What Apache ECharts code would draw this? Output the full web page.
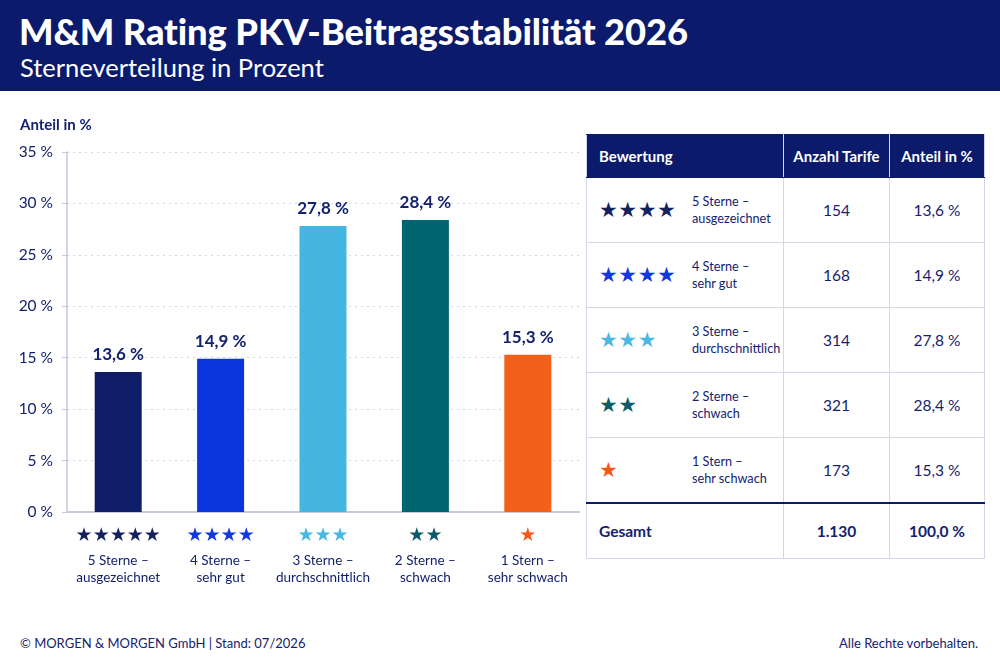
<!DOCTYPE html>
<html lang="de">
<head>
<meta charset="utf-8">
<title>M&amp;M Rating PKV-Beitragsstabilität 2026</title>
<script src="https://cdn.jsdelivr.net/npm/echarts@6/dist/echarts.min.js"></script>
<style>
  html, body { margin: 0; padding: 0; background: #fff; }
  body { width: 1000px; height: 666px; position: relative; overflow: hidden; font-family: Lato, "Noto Sans", sans-serif; color: #14226e; }
  #header { position: absolute; left: 0; top: 0; width: 1000px; height: 91px; background: #0b1a6b; color: #fff; }
  #header h1 { position: absolute; left: 19px; top: 9px; margin: 0; font-size: 36.3px; font-weight: 900; letter-spacing: -0.1px; }
  #header h2 { position: absolute; left: 20px; top: 52px; margin: 0; font-size: 25.5px; font-weight: 400; }
  #chart { position: absolute; left: 0; top: 100px; width: 585px; height: 500px; }
  #tbl { position: absolute; left: 586px; top: 134px; border-collapse: collapse; font-size: 15.5px; color: #14226e; }
  #tbl td, #tbl th { border: 1px solid #d3d6ec; padding: 0; white-space: nowrap; }
  #tbl th { background: #0b1a6b; color: #fff; height: 42px; font-size: 15px; font-weight: 700; border-color: #0b1a6b #d3d6ec; }
  #tbl th.first { text-align: left; padding-left: 12px; }
  #tbl td { height: 64px; text-align: center; }
  #tbl td.rating { text-align: left; }
  .stars { display: inline-block; width: 93px; padding-left: 12px; font-family: "DejaVu Sans"; font-size: 21px; vertical-align: middle; letter-spacing: 0.5px; }
  .rtext { display: inline-block; font-size: 12.7px; line-height: 17px; vertical-align: middle; text-align: left; }
  #tbl tr.total td { height: 54px; font-weight: 700; border-top: 2px solid #0b1a6b; }
  #tbl tr.total td.rating { padding-left: 12px; }
  #footer-l { position: absolute; left: 20px; top: 635px; font-size: 13px; }
  #footer-r { position: absolute; right: 22px; top: 635px; font-size: 13px; }
</style>
</head>
<body>
<div id="header">
  <h1>M&amp;M Rating PKV-Beitragsstabilität 2026</h1>
  <h2>Sterneverteilung in Prozent</h2>
</div>
<div id="chart"></div>
<table id="tbl"></table>
<div id="footer-l">© MORGEN &amp; MORGEN GmbH | Stand: 07/2026</div>
<div id="footer-r">Alle Rechte vorbehalten.</div>
<script>
// Daten
const ratingLine1 = ["5 Sterne –", "4 Sterne –", "3 Sterne –", "2 Sterne –", "1 Stern –"];
const ratingLine2 = ["ausgezeichnet", "sehr gut", "durchschnittlich", "schwach", "sehr schwach"];
const shares = [13.6, 14.9, 27.8, 28.4, 15.3];
const counts = [154, 168, 314, 321, 173];
const chartStars = [5, 4, 3, 2, 1];
const tableStars = [4, 4, 3, 2, 1];
const totalCount = "1.130";
const totalShare = "100,0 %";
const yTicks = [0, 5, 10, 15, 20, 25, 30, 35];

const barColors = ["#0f1d68", "#0a35dc", "#45b6e1", "#00646f", "#f2601a"];
const starColors = ["#14215f", "#1238e0", "#4ab8e3", "#0b5c68", "#f2581c"];
const navy = "#14226e";

const fmt = (v) => v.toFixed(1).replace(".", ",") + " %";
const categories = ratingLine1.map((t, i) => t + "\n" + ratingLine2[i]);

// Tabelle
const tbl = document.getElementById("tbl");
let html = '<tr><th class="first" style="width:184px">Bewertung</th><th style="width:105px">Anzahl Tarife</th><th style="width:94px">Anteil in %</th></tr>';
counts.forEach((c, i) => {
  html += '<tr><td class="rating"><span class="stars" style="color:' + starColors[i] + '">' +
    "★".repeat(tableStars[i]) + '</span><span class="rtext">' + ratingLine1[i] + "<br>" + ratingLine2[i] +
    "</span></td><td>" + c + "</td><td>" + fmt(shares[i]) + "</td></tr>";
});
html += '<tr class="total"><td class="rating">Gesamt</td><td>' + totalCount + "</td><td>" + totalShare + "</td></tr>";
tbl.innerHTML = html;

// Diagramm
const rich = { t: { color: navy, fontSize: 13.5, lineHeight: 17, fontFamily: "Lato" } };
starColors.forEach((c, i) => {
  rich["s" + i] = { color: c, fontSize: 19, lineHeight: 22, fontFamily: "DejaVu Sans", padding: [0, 0, 10, 0] };
});

const chart = echarts.init(document.getElementById("chart"));
chart.setOption({
  animation: false,
  textStyle: { fontFamily: "Lato" },
  title: {
    text: "Anteil in %",
    left: 20,
    top: 18,
    padding: 0,
    textStyle: { color: navy, fontSize: 15, fontWeight: "bold" }
  },
  grid: { left: 67, top: 52, width: 512, height: 360 },
  xAxis: {
    type: "category",
    data: categories,
    axisLine: { show: true, lineStyle: { color: "#c6c9da", width: 2 } },
    axisTick: { show: false },
    axisLabel: {
      interval: 0,
      margin: 18,
      formatter: (value, idx) => {
        const parts = value.split("\n");
        return "{s" + idx + "|" + "★".repeat(chartStars[idx]) + "}\n{t|" + parts[0] + "}\n{t|" + parts[1] + "}";
      },
      rich: rich
    }
  },
  yAxis: {
    type: "value",
    min: yTicks[0],
    max: yTicks[yTicks.length - 1],
    interval: 5,
    axisLine: { show: true, lineStyle: { color: "#c6c9da", width: 1.5 } },
    axisTick: { show: true, length: 5, lineStyle: { color: "#c6c9da" } },
    axisLabel: { formatter: "{value} %", color: navy, fontSize: 15.5, margin: 14 },
    splitLine: { show: true, lineStyle: { color: "#d3d6e0", type: [2, 4], width: 1 } }
  },
  series: [{
    type: "bar",
    barWidth: 47,
    data: shares.map((v, i) => ({ value: v, itemStyle: { color: barColors[i] } })),
    label: {
      show: true,
      position: "top",
      distance: 9,
      formatter: (p) => fmt(p.value),
      color: navy,
      fontSize: 17,
      fontWeight: "bold"
    }
  }]
});
</script>
</body>
</html>
